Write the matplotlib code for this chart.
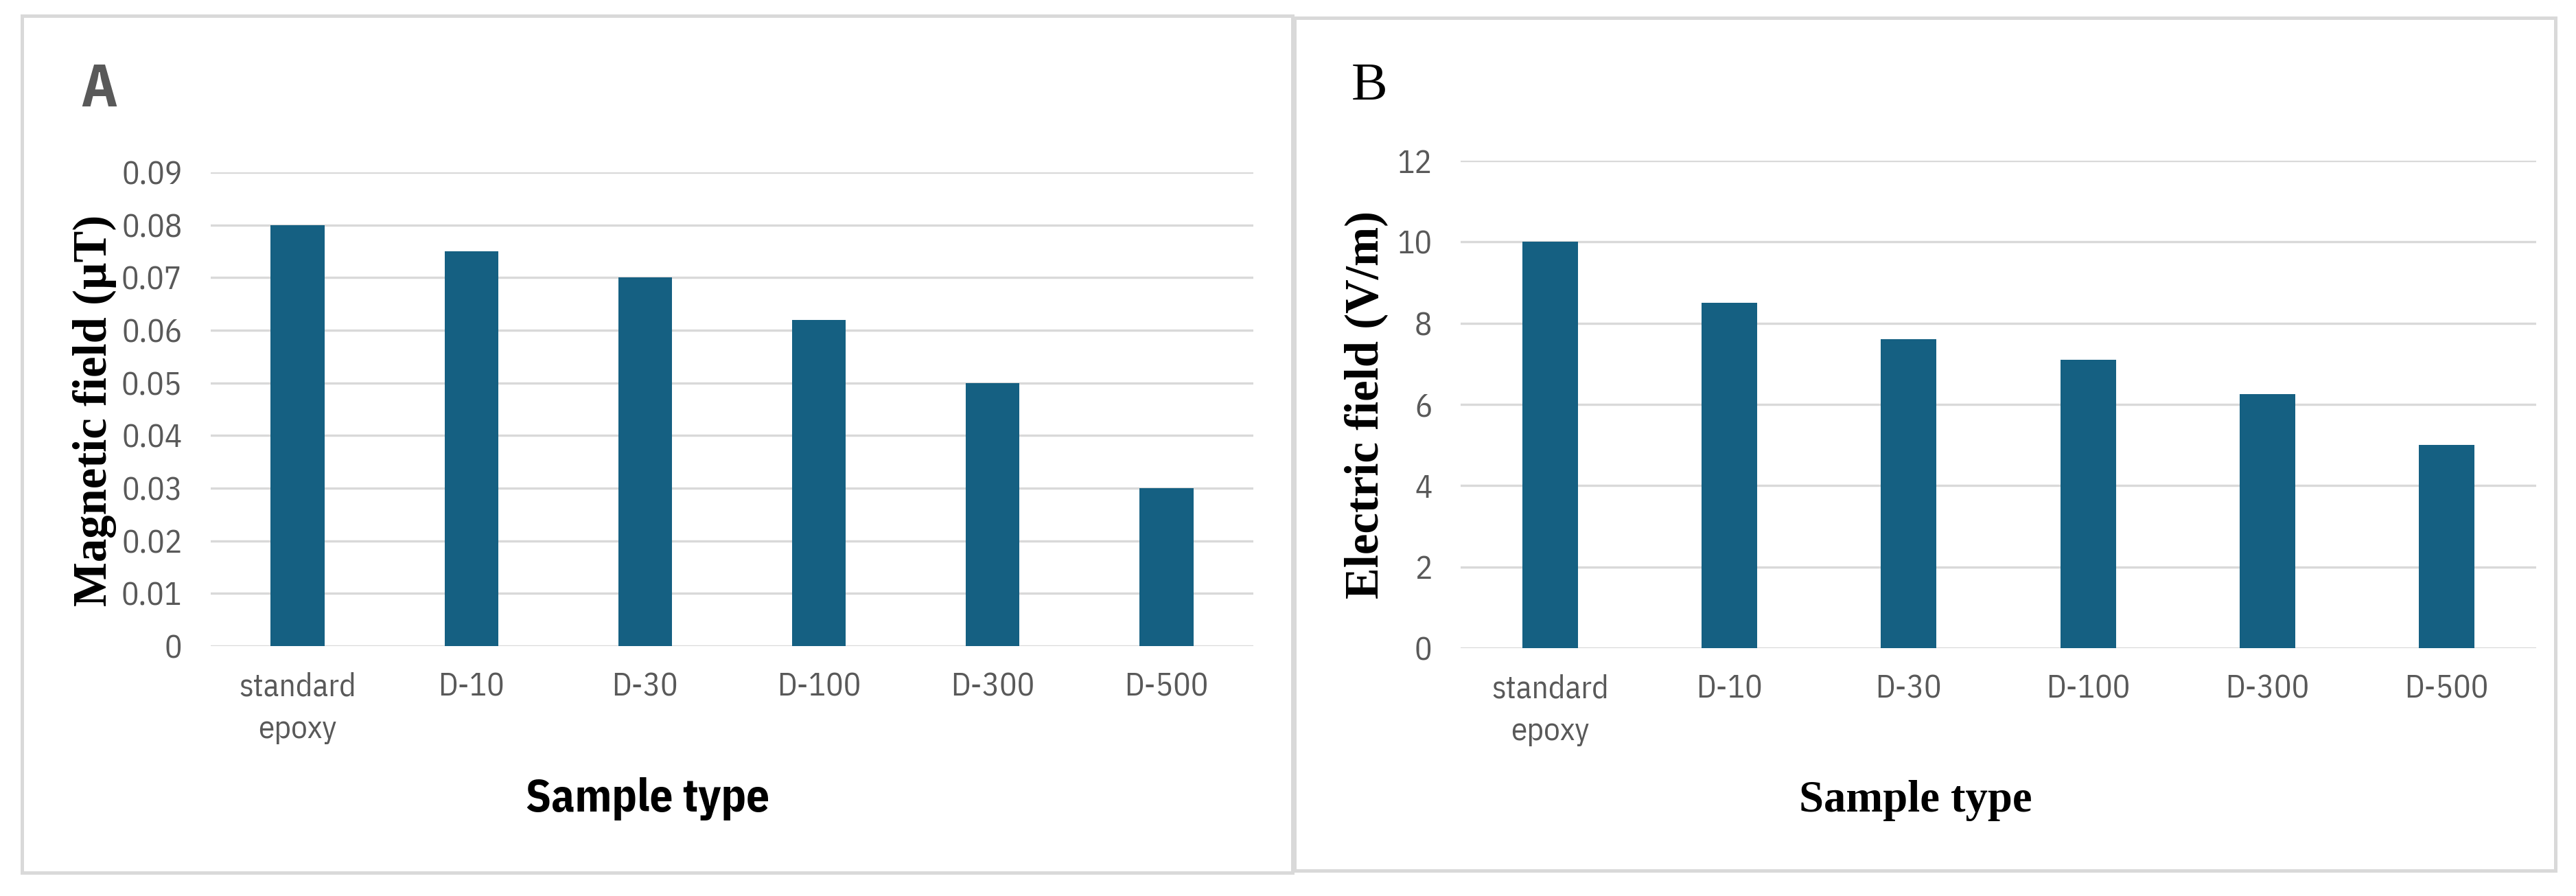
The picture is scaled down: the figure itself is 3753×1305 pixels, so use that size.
import matplotlib
matplotlib.use('Agg')
import matplotlib.pyplot as plt
import numpy as np
from matplotlib.patches import Rectangle

# data
samples = ['standard\nepoxy', 'D-10', 'D-30', 'D-100', 'D-300', 'D-500']
magnetic = [0.08, 0.075, 0.07, 0.062, 0.05, 0.03]
electric = [10, 8.5, 7.6, 7.1, 6.25, 5.0]
mag_ticks = [0, 0.01, 0.02, 0.03, 0.04, 0.05, 0.06, 0.07, 0.08, 0.09]
mag_ticklabels = ['0', '0.01', '0.02', '0.03', '0.04', '0.05', '0.06', '0.07', '0.08', '0.09']
el_ticks = [0, 2, 4, 6, 8, 10, 12]

W, H = 3753, 1305
DPI = 300
BAR = '#156082'
GRID = '#d9d9d9'
TICK = '#595959'
NARROW = ['IBM Plex Sans Condensed', 'DejaVu Sans']
SERIF = ['Liberation Serif', 'DejaVu Serif']

fig = plt.figure(figsize=(W / DPI, H / DPI), dpi=DPI)
fig.patch.set_facecolor('white')

def px(x0, y0, x1, y1):
    # pixel box (top-left origin) -> figure rect
    return [x0 / W, 1 - y1 / H, (x1 - x0) / W, (y1 - y0) / H]

def ftext(x, y, s, **kw):
    return fig.text(x / W, 1 - y / H, s, **kw)

# panel frames
for x0, y0, x1, y1 in [(32, 23, 1883, 1271), (1886, 26, 3723, 1268)]:
    fig.patches.append(Rectangle((x0 / W, 1 - y1 / H), (x1 - x0) / W, (y1 - y0) / H,
                                 transform=fig.transFigure, fill=False,
                                 edgecolor=GRID, linewidth=1.2))

def style(ax, ticks, ticklabels, top):
    ax.set_xlim(-0.5, len(samples) - 0.5)
    ax.set_ylim(0, top)
    ax.set_yticks(ticks)
    ax.set_yticklabels(ticklabels)
    ax.set_xticks(np.arange(len(samples)))
    ax.set_xticklabels(samples, linespacing=1.5)
    for s in ['top', 'right', 'left', 'bottom']:
        ax.spines[s].set_visible(False)
    ax.tick_params(length=0, colors=TICK, labelsize=11.3)
    ax.tick_params(axis='y', pad=10)
    ax.tick_params(axis='x', pad=9)
    for lab in ax.get_xticklabels() + ax.get_yticklabels():
        lab.set_family(NARROW)
    ax.grid(axis='y', color=GRID, linewidth=0.8)
    ax.set_axisbelow(True)

ind = np.arange(len(samples))

# A: magnetic field
axA = fig.add_axes(px(307, 251, 1826, 941))
axA.bar(ind, magnetic, 0.31, color=BAR, zorder=3)
style(axA, mag_ticks, mag_ticklabels, 0.09)
ftext(138, 598, 'Magnetic field (µT)', family=SERIF, fontweight='bold',
      fontsize=16.5, rotation=90, ha='center', va='center')
ftext(943, 1182, 'Sample type', family=NARROW, fontweight='bold',
      fontsize=16, ha='center', va='baseline')
ftext(117, 155, 'A', family=NARROW, fontweight='bold',
      fontsize=21, color=TICK, ha='left', va='baseline')

# B: electric field
axB = fig.add_axes(px(2128, 234, 3695, 944))
axB.bar(ind, electric, 0.31, color=BAR, zorder=3)
style(axB, el_ticks, [str(t) for t in el_ticks], 12)
ftext(1990, 590, 'Electric field (V/m)', family=SERIF, fontweight='bold',
      fontsize=16.5, rotation=90, ha='center', va='center')
ftext(2791, 1182, 'Sample type', family=SERIF, fontweight='bold',
      fontsize=15.5, ha='center', va='baseline')
ftext(1969, 145, 'B', family=SERIF, fontsize=19, color='black',
      ha='left', va='baseline')

fig.savefig('out.png', dpi=DPI)
